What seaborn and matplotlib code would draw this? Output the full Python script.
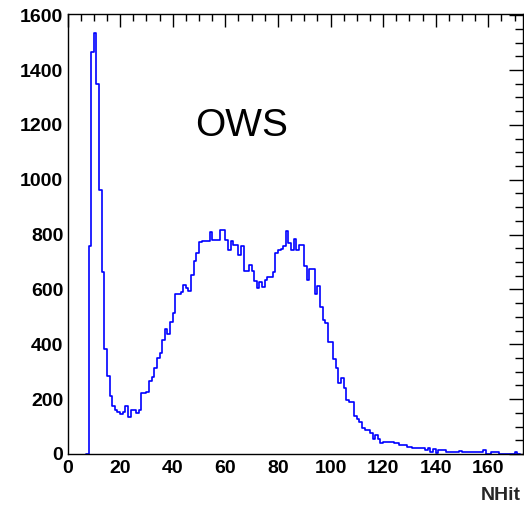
import matplotlib
matplotlib.use("Agg")
import matplotlib.pyplot as plt
import numpy as np
import pandas as pd
import seaborn as sns
from matplotlib.ticker import MultipleLocator

# NHit histogram, unit bins, first bin low edge = 7
first_bin = 7
counts = [
    0, 757, 1467, 1536, 1350, 964, 662, 382, 286, 212,          # 7-16
    175, 161, 154, 145, 152, 176, 136, 161, 161, 149,           # 17-26
    161, 222, 222, 226, 265, 280, 313, 350, 370, 414,           # 27-36
    455, 438, 483, 514, 583, 583, 589, 615, 605, 595,           # 37-46
    654, 702, 733, 773, 778, 778, 778, 810, 779, 779,           # 47-56
    779, 816, 816, 779, 745, 777, 761, 761, 727, 757,           # 57-66
    669, 669, 690, 666, 632, 605, 626, 609, 635, 645,           # 67-76
    645, 662, 733, 743, 748, 757, 812, 770, 743, 784,           # 77-86
    743, 763, 763, 684, 635, 675, 675, 584, 611, 536,           # 87-96
    489, 477, 410, 410, 346, 313, 258, 276, 242, 197,           # 97-106
    191, 191, 139, 127, 118, 94, 88, 88, 76, 54,                # 107-116
    69, 54, 39, 45, 45, 45, 45, 39, 39, 33,                     # 117-126
    33, 33, 27, 27, 21, 21, 21, 21, 21, 15,                     # 127-136
    21, 6, 18, 5, 15, 15, 15, 8, 8, 8,                          # 137-146
    8, 8, 12, 8, 8, 8, 6, 6, 6, 6,                              # 147-156
    6, 15, 0, 0, 6, 6, 6, 0, 0, 0,                              # 157-166
    0, 0, 0, 8, 0,                                              # 167-171
]
nhit = first_bin + np.arange(len(counts))
df = pd.DataFrame({"nhit": nhit + 0.5, "count": counts})

sns.set_theme(style="white")
plt.rcParams["font.family"] = ["Liberation Sans", "DejaVu Sans"]

fig = plt.figure(figsize=(5.24, 5.08), dpi=100)
ax = fig.add_axes([67.5 / 524, 1 - 454 / 508, (522.5 - 67.5) / 524, (454 - 13.5) / 508])

sns.histplot(data=df, x="nhit", weights="count", binwidth=1,
             binrange=(first_bin, first_bin + len(counts)),
             element="step", fill=False, color="#0000ff", linewidth=1.2, ax=ax)

ax.set_xlim(0, 173)
ax.set_ylim(0, 1606)
ax.xaxis.set_major_locator(MultipleLocator(20))
ax.xaxis.set_minor_locator(MultipleLocator(5))
ax.yaxis.set_major_locator(MultipleLocator(200))
ax.yaxis.set_minor_locator(MultipleLocator(50))

ax.tick_params(which="both", direction="in", top=True, right=True, colors="black",
               labelsize=14, width=1)
ax.tick_params(axis="x", which="major", length=9, pad=4)
ax.tick_params(axis="x", which="minor", length=5)
ax.tick_params(axis="y", which="major", length=10, pad=3)
ax.tick_params(axis="y", which="minor", length=5.5)
for lab in ax.get_xticklabels() + ax.get_yticklabels():
    lab.set_fontweight("bold")

for sp in ax.spines.values():
    sp.set_color("black")
    sp.set_linewidth(1)

ax.set_xlabel("")
ax.set_ylabel("")
ax.text(48.5, 1160, "OWS", fontsize=28, color="black")
fig.text(521 / 524, 1 - 495 / 508, "NHit", ha="right", va="center",
         fontsize=14, fontweight="bold")

fig.savefig("out.png", dpi=100, facecolor="white")
